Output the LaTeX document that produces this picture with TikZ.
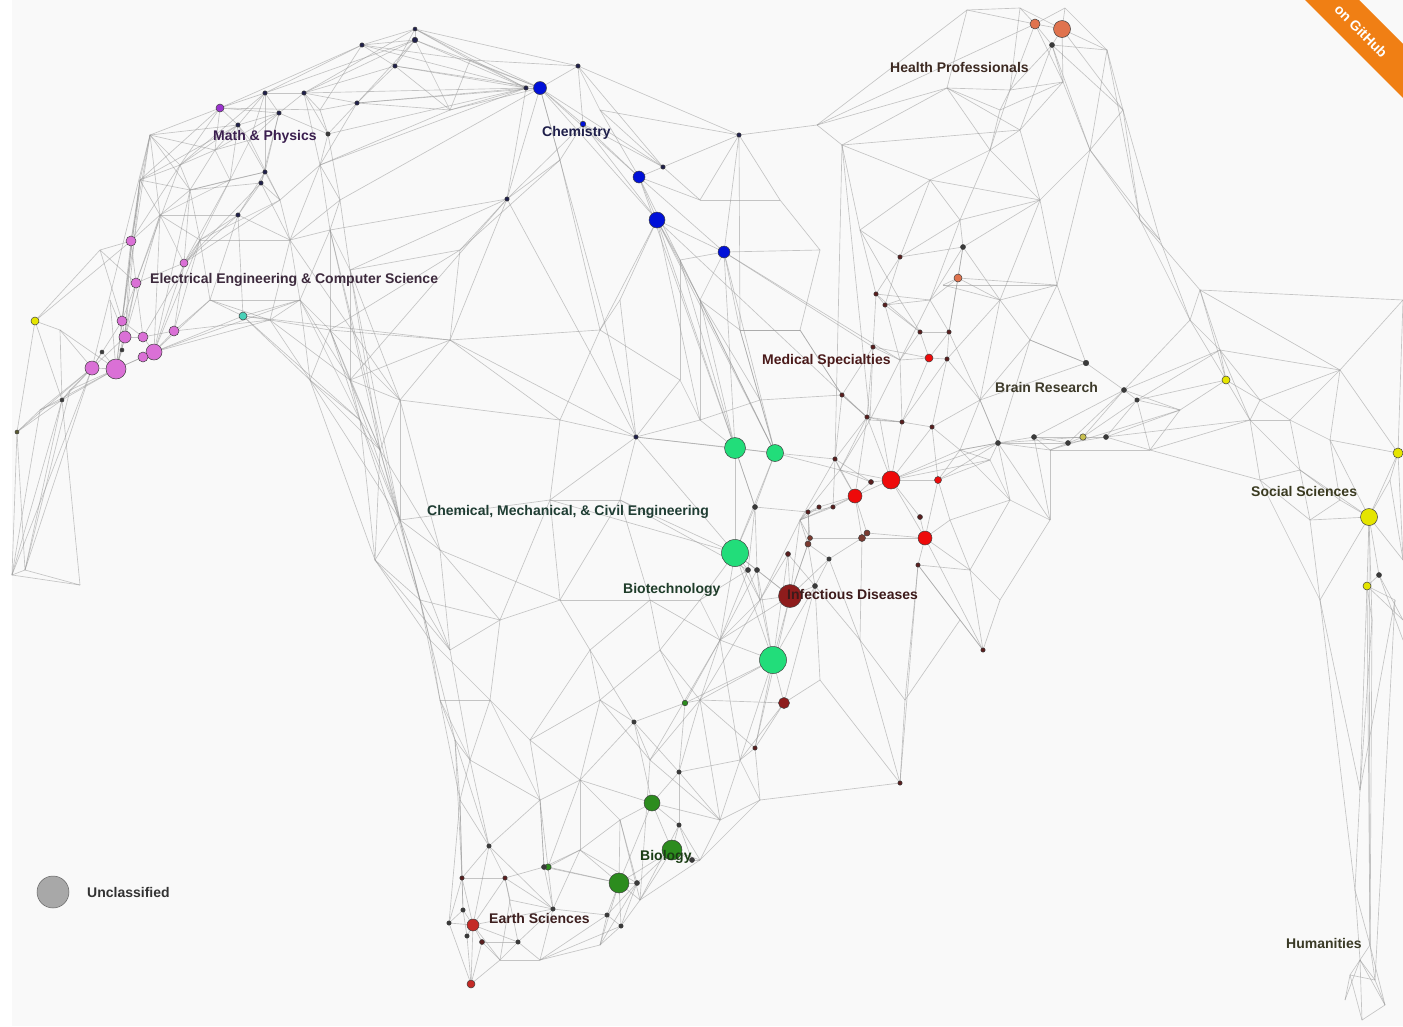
\documentclass[tikz,border=0pt]{standalone}
\usepackage{fontspec}
\setmainfont{Liberation Sans}
\definecolor{ee}{HTML}{DA70D6}
\definecolor{mp}{HTML}{9A32CD}
\definecolor{tq}{HTML}{48D1B8}
\definecolor{yl}{HTML}{E5E500}
\definecolor{bl}{HTML}{0010D8}
\definecolor{co}{HTML}{E0734E}
\definecolor{rd}{HTML}{EE0A0A}
\definecolor{mr}{HTML}{8E1C1C}
\definecolor{sg}{HTML}{22DD7A}
\definecolor{fg}{HTML}{2C8C1E}
\definecolor{er}{HTML}{C42A26}
\definecolor{dk}{HTML}{3A3A3A}
\definecolor{nv}{HTML}{20204A}
\definecolor{dr}{HTML}{5A1E1E}
\definecolor{br}{HTML}{7A3A30}
\definecolor{ol}{HTML}{5A5A30}
\definecolor{gy}{HTML}{A8A8A8}
\definecolor{by}{HTML}{C8C050}
\definecolor{bgc}{HTML}{F9F9F9}
\definecolor{gh}{HTML}{F07F14}
\definecolor{lmp}{HTML}{3B1F4F}
\definecolor{lee}{HTML}{3D2A3D}
\definecolor{lch}{HTML}{1F1F4A}
\definecolor{lhp}{HTML}{3D2A22}
\definecolor{lms}{HTML}{4A1A1A}
\definecolor{lbr}{HTML}{3D3A2A}
\definecolor{lss}{HTML}{3A3A20}
\definecolor{lcm}{HTML}{1F3D33}
\definecolor{lbt}{HTML}{1F3D2A}
\definecolor{lid}{HTML}{3D1A1A}
\definecolor{lbi}{HTML}{1A3D14}
\definecolor{les}{HTML}{3D1F1F}
\definecolor{lhu}{HTML}{3A3A26}
\definecolor{lun}{HTML}{333333}
\newcommand\myfan[2]{\foreach \tgt in {#2}{\draw[edge] (#1) -- (\tgt);}}
\tikzset{
 edge/.style={draw=black!40, line width=0.65pt, opacity=0.55},
 dot/.style={circle, inner sep=0pt, draw=black!75, line width=0.5pt},
 lab/.style={anchor=west, inner sep=0pt, font=\fontsize{14}{16}\selectfont\bfseries},
}
\begin{document}
\begin{tikzpicture}[x=1pt,y=-1pt]
\useasboundingbox (0,0) rectangle (1403,1026);
\fill[bgc] (0,0) rectangle (1403,1026);
\fill[white] (0,0) rectangle (12,1026);
\foreach \nn/\xx/\yy in {
a1/131/241, a2/184/263, a3/136/283, a4/122/321, a5/125/337, a6/143/337, a7/174/331, a8/154/352, a9/143/357, a10/92/368, a11/116/369, a12/102/352, a13/122/350, a14/62/400, a15/17/432, a16/35/321, a17/243/316,
x1/150/135, x2/140/180, x3/190/190, x4/160/215, x5/200/240, x6/215/150, x7/320/165, x8/330/230, x9/300/300, x10/270/320, x11/330/330, x12/210/300, x13/70/390, x14/40/410, x15/12/575, x16/25/570, x17/80/585, x18/110/300, x19/250/140, x20/340/200, x21/60/330, x22/180/165, x23/230/180, x24/290/240, x25/100/250, x26/320/110, x27/350/270, x28/280/200,
m1/220/108, m2/265/93, m3/304/93, m4/279/113, m5/238/125, m6/328/134, m7/265/172, m8/261/183, m9/238/215, m10/357/103, m11/362/45, m12/415/29, m13/415/40, m14/395/66,
c1/540/88, c2/526/88, c3/578/66, c4/583/124, c5/639/177, c6/657/220, c7/724/252, c8/663/167, c9/739/135, c10/507/199, c11/636/437,
y1/470/60, y2/600/110, y3/680/260, y4/700/300, y5/817/125, y6/842/145, y7/700/200, y8/560/160, y9/460/250, y10/620/300, y11/740/330, y12/450/110,
hp1/1035/24, hp2/1062/29, hp3/1052/45,
z1/1020/8, z2/1065/8, z3/1107/50, z4/1063/82, z5/1123/110, z6/967/10, z7/947/88, z8/1000/110, z9/1020/130, z10/1057/285, z11/943/285, z12/1090/150, z13/1140/220,
ms1/958/278, ms2/963/247, ms3/900/257, ms4/876/294, ms5/885/305, ms6/920/332, ms7/949/332, ms8/929/358, ms9/947/359, ms10/873/347, ms11/842/395, ms12/867/417, ms13/902/422, ms14/932/427, ms15/835/459, ms16/891/480, ms17/855/496, ms18/871/482, ms19/938/480, ms20/925/538, ms21/918/565, ms22/920/517, ms23/862/538, ms24/867/533, ms25/808/512, ms26/819/507, ms27/833/507, ms28/755/507, ms29/810/538, ms30/808/544, ms31/788/554, ms32/829/559, ms33/748/570, ms34/757/570, ms35/815/586, ms36/983/650, ms37/900/783, ms38/784/703, ms39/755/748, id1/790/596,
w1/970/570, w2/1000/600, w3/1010/500, w4/1050/520, w5/960/450, w6/980/400, w7/1000/300, w8/1040/200, w9/1030/340, w10/900/300, w11/860/230, w12/880/420, w13/950/520, w14/990/460, w15/1050/450, w16/930/180, w17/905/700, w18/960/620, w19/860/640, w20/820/680,
g1/735/448, g2/775/453, g3/735/553, g4/773/660,
r1/1086/363, r2/1124/390, r3/1137/400, r4/998/443, r5/1034/437, r6/1068/443, r7/1083/437, r8/1106/437,
q1/1190/320, q2/1250/420, q3/1300/470, q4/1403/300, q5/1340/370, q6/1160/240, q7/1200/290, q8/1260/480, q9/1310/520, q10/1340/500, q11/1403/560, q12/1403/640, q13/1180/410, q14/1150/450, q15/1260/400, q16/1220/350, q17/1290/420, q18/1330/440, q19/1390/480, q20/1403/620,
ss1/1369/517, ss2/1398/453, ss3/1367/586, ss4/1379/575, ss5/1226/380,
u1/1360/960, u2/1370/945, u3/1350/975, u4/1385/1005, u5/1362/1020, u6/1375/980, u7/1355/890, u8/1345/1000, u9/1320/600, u10/1372/620, u11/1395/600, u12/1360/790,
b1/652/803, b2/672/850, b3/619/883, b4/548/867, b5/637/883, b6/692/860, b7/679/772, b8/685/703, b9/634/722, b10/679/825, b11/544/867,
e1/473/925, e2/471/984, e3/489/846, e4/462/878, e5/505/878, e6/463/910, e7/449/923, e8/467/936, e9/482/942, e10/518/942, e11/553/909, e12/607/915, e13/621/926,
d1/540/960, d2/600/945, d3/640/900, d4/700/860, d5/720/820, d6/500/960, d7/540/800, d8/580/780, d9/620/820, d10/600/700, d11/660/650, d12/700/600, d13/470/760, d14/450/650, d15/500/620, d16/560/600, d17/440/550, d18/490/700, d19/530/740, d20/590/650, d21/650/600, d22/510/900, d23/580/850, d24/740/760, d25/760/800,
l1/380/450, l2/400/520, l3/420/600, l4/440/700, l5/460/800, l6/350/380, l7/310/380, l8/360/420, l9/430/640, l10/455/740, l11/400/400, l12/375/560,
k1/720/640, k2/760/600, k3/800/520, k4/840/470, k5/870/420, k6/900/360, k7/930/300, k8/960/220, k9/990/150, k10/1010/90, k11/700/700, k12/650/760,
n1/600/330, n2/450/340, n3/550/500, n4/620/500, n5/700/420, n6/800/330, n7/760/400, n8/820/250, n9/780/200, n10/680/380, n11/560/420,
lg/53/892}
{\coordinate (\nn) at (\xx,\yy);}
% ---- left cluster
\myfan{a11}{a10,a12,a13,a9,a8,a5,a4,x13,x14,a14,x18,x21,x2,x4,a3}
\myfan{a10}{a14,x13,x14,a15,x16,x15,a12,a5,x21,a4,x1}
\myfan{a8}{a9,a7,a6,a2,x5,x12,x10,a17,x9,x3,x4}
\myfan{a5}{a6,a4,a3,x18,a1,x2}
\myfan{a6}{a7,a4,a3,x5}
\myfan{a4}{a3,a1,x25,x2,x1}
\myfan{a3}{a1,a2,x4,x25,x22}
\myfan{a1}{x2,x1,x25,x22,x4}
\myfan{a2}{x3,x4,x5,x23,x28,m9,m8}
\myfan{a7}{x12,x5,a2,x10}
\myfan{a14}{x13,x14,a15,x15,x16,x17,a16,x21}
\myfan{a15}{x14,x15,x16,a16}
\myfan{x15}{x16,x17,x14}
\myfan{x16}{x17,x13}
\myfan{a16}{x21,x25,a1}
\myfan{x1}{x2,x22,m1,m5,x6,x3,x4}
\myfan{x2}{x22,x3,x4,m1,m5}
\myfan{x22}{x3,x6,m5,m1,m2}
\myfan{x3}{x4,x5,x23,x6,m7,m8}
\myfan{x4}{x5,x23,m9}
\myfan{x5}{x23,x12,m9,x28,x24}
\myfan{m1}{m2,m5,x6,m4,m11,x26}
\myfan{m2}{m3,m4,m5,m7,m11,m13,x19}
\myfan{m3}{m4,m10,m14,m13,m12,m6,x26,x7}
\myfan{m4}{m5,m6,m7,m8,x19}
\myfan{m5}{m7,x6,x19,x23}
\myfan{m6}{x7,x20,m10,x26}
\myfan{m7}{m8,m9,x23,x28}
\myfan{m8}{m9,x28,x24}
\myfan{m9}{x12,x24,a17}
\myfan{m10}{m14,m13,x7,x26}
\myfan{m11}{m13,m14,m12,x26}
\myfan{m12}{m13,m14}
\myfan{m13}{m14,y12}
\myfan{x7}{x20,x8,x24,x28}
\myfan{x20}{x8,x27,x24}
\myfan{x8}{x24,x27,x9,x11,l1,l2,c10}
\myfan{x24}{x9,x10,x28,l11}
\myfan{x9}{x10,x11,x12,a17,l7,l6,l8}
\myfan{x10}{x12,a17,x11,l7,l6}
\myfan{x6}{x19,x23,m4}
\myfan{x19}{x23,x28}
\myfan{x11}{l6,l7,l8,l11,l1,n2}
\myfan{x27}{l6,l11,l1,l2,c10,y9}
\myfan{a17}{l7,l8,n2,x12}
% ---- top arc and chemistry
\myfan{c2}{c1,m13,m12,m11,m14,m3,m10,y12,y1,m6,x7}
\myfan{c1}{c3,c4,c8,c5,c6,y1,m12,m13,m14,m10,y8,c10,y12,x20,c11}
\myfan{c3}{c9,m12,y1,c4,c8,y2}
\myfan{y1}{m12,m11,y12}
\myfan{y12}{m14,m10,x7}
\myfan{c10}{c2,c4,y9,n2,y8,l6,c11}
\myfan{y9}{x11,n2,y8}
\myfan{c4}{c5,c6,c8,y8}
\myfan{c5}{c6,c7,c8,y7,y3,g1,y2}
\myfan{c6}{c7,y3,y4,g1,g2,y10,n5,k5}
\myfan{c7}{y3,y4,g1,g2,y11,c9,k6,ms10}
\myfan{c8}{c9,y2,y7}
\myfan{c9}{y5,y2,y7,y11,n9}
\myfan{y5}{y6,z7,hp1,z6}
\myfan{y6}{w11,w16,z9,ms15,k5}
\myfan{y3}{y4,g1,g2,n10}
\myfan{y4}{g1,g2,n7,n5,y11}
\myfan{y11}{g2,n7,n6}
\myfan{c11}{g1,g3,n5,n10,n11,n4,n3,y10,g2,n2}
\myfan{n2}{n1,n11,l6,l11}
\myfan{n1}{y10,n10,c6,y8,n11}
% ---- left arm
\myfan{l7}{l8,l1,l12,l2}
\myfan{l6}{l8,l11,l1,l2}
\myfan{l8}{l1,l12,l3,l2}
\myfan{l11}{l1,l2,d17,n11}
\myfan{l1}{l2,l12,l3,d17}
\myfan{l2}{l12,l3,l9,d17,d14}
\myfan{l12}{l3,l9,d14}
\myfan{l3}{l9,l4,d14,d15}
\myfan{l9}{l4,l10,d18}
\myfan{l4}{l10,l5,d13,d18}
\myfan{l10}{l5,d13,e3,e4}
\myfan{l5}{e3,e4,e6,e7,d13}
% ---- earth sciences
\myfan{e1}{e2,e3,e4,e5,e6,e7,e8,e9,e10,d6,e11}
\myfan{e2}{e8,e9,e7,d6}
\myfan{e3}{e4,e5,d13,e11,d7}
\myfan{e4}{e6,e7,e5}
\myfan{e5}{e11,e10,d22,b11}
\myfan{e6}{e7,e8}
\myfan{e9}{e10,d6}
\myfan{e10}{d1,d6,e11}
\myfan{d6}{d1,d22}
\myfan{d1}{d2,e12,e13,e11}
\myfan{d2}{e12,e13,b3,b5}
\myfan{e11}{b11,b4,e12,d22,d23}
\myfan{e12}{e13,b3,b5}
\myfan{e13}{b3,b5,d3}
% ---- biology
\myfan{b3}{b5,b2,b1,b4,b11,d3,d23,d9}
\myfan{b2}{b6,b10,b1,d3,d4,b5}
\myfan{b1}{b7,b10,d9,b9,d5,d8}
\myfan{b4}{b11,d23,d8,d7}
\myfan{b11}{d7,d23}
\myfan{b6}{d4,b10}
\myfan{b7}{b10,d5,b8,b9,k11,d24}
\myfan{b9}{b8,d10,d20,d8}
\myfan{b8}{k11,k1,d11,g4}
% ---- right arm
\myfan{d3}{d4,d9,b10,k12}
\myfan{d4}{d5,d25,b10}
\myfan{d5}{d24,d25,k11,k12}
\myfan{d24}{d25,ms39,g4,k1,ms38}
\myfan{d25}{ms39,ms37}
\myfan{k12}{k11,b9,d10,k1}
\myfan{k11}{k1,k2,g4,ms38,ms39}
\myfan{k1}{k2,g4,ms33,ms34,g3,id1}
\myfan{k2}{g4,id1,k3,ms33,ms34,ms31,g3}
\myfan{ms39}{ms38,g4,id1}
\myfan{g4}{ms38,id1,ms35,ms31,g3,ms34}
\myfan{id1}{ms35,ms31,ms30,ms29,ms34,k3,g3,ms32}
\myfan{k3}{ms25,ms26,ms27,ms29,ms30,k4,ms17,ms15}
\myfan{ms28}{g3,g1,ms25,ms33,ms34,g2}
\myfan{g3}{g1,g2,ms33,ms34,n3,n4}
\myfan{k4}{ms15,ms17,ms18,ms16,k5,ms12,g2}
\myfan{k5}{ms12,ms11,ms13,k6,ms10}
\myfan{k6}{ms10,ms8,ms6,k7,ms5,ms13}
\myfan{k7}{ms5,ms4,ms1,ms2,k8,ms7}
\myfan{k8}{ms2,ms3,k9,w16,w8}
\myfan{k9}{k10,w16,w8,z8,z9,z7}
\myfan{k10}{hp1,hp3,z1,z7,z8,z4}
\myfan{g1}{g2,n5,ms28}
\myfan{g2}{ms15,n7}
\myfan{n5}{n10,n7}
\myfan{n6}{n8,ms11,y11}
\myfan{n8}{n9,c7}
\myfan{n9}{y7}
% ---- medical
\myfan{ms16}{ms17,ms18,ms19,ms20,ms22,ms13,ms14,ms12,w5,w14,w12}
\myfan{ms17}{ms18,ms27,ms26,ms15,ms23,ms24,ms12}
\myfan{ms20}{ms22,ms21,ms23,ms24,w13,w1,ms19}
\myfan{ms21}{w1,w18,ms36,ms37,w17}
\myfan{ms19}{w5,w13,w14,ms14}
\myfan{ms13}{ms14,ms12,ms8,ms9,w12}
\myfan{ms14}{ms9,w5,w6}
\myfan{ms8}{ms6,ms7,ms9,ms10}
\myfan{ms9}{ms7,w6,w7}
\myfan{ms6}{ms7,ms5,ms4,w10}
\myfan{ms5}{ms4,ms3,w10}
\myfan{ms4}{ms3,w11,ms10}
\myfan{ms3}{w11,w16,ms2}
\myfan{ms1}{ms2,ms7,w7,z10,z11}
\myfan{ms2}{w8,w7,ms7}
\myfan{ms10}{ms11,ms12}
\myfan{ms11}{ms12,ms15,n6,n7}
\myfan{ms15}{ms12,ms27,ms18}
\myfan{ms25}{ms26,ms27,ms29,ms30}
\myfan{ms23}{ms24,ms29,ms32,w19}
\myfan{ms32}{ms35,ms30,w19}
\myfan{ms35}{ms30,ms31,w19,w20}
\myfan{ms36}{w18,w2,w1,ms20}
\myfan{ms37}{w17,w19,w20}
\myfan{ms38}{w20,ms35}
\myfan{w17}{w18,w19}
\myfan{w1}{w2,w13,w3}
\myfan{w3}{w4,w14,w13,r4,w5}
\myfan{w4}{w15,r4,r5,w2}
\myfan{w5}{w6,w14,r4}
\myfan{w6}{w7,w9,r4,ms7}
\myfan{w7}{w9,w8,z10,z11}
\myfan{w8}{w16,z9,z10,z12}
\myfan{w9}{z10,r1,r4}
\myfan{w11}{w16,w10}
\myfan{w12}{ms12}
% ---- health professionals
\myfan{hp2}{hp1,hp3,z1,z2,z3,z4,z5}
\myfan{hp1}{hp3,z1,z2,z6,z4}
\myfan{hp3}{z3,z4,z5,z12,z9}
\myfan{z6}{z7,z1}
\myfan{z7}{z8,z9,y6}
\myfan{z3}{z5,z12,z13,z2}
\myfan{z5}{z12,z13,q6}
\myfan{z12}{z13,q6,z10}
\myfan{z13}{q6,q7,q1}
\myfan{z4}{z12,z9,z8}
\myfan{z10}{z11,r1}
% ---- brain research and social sciences
\myfan{r4}{r5,r6,r7,w14,w15,ms16,ms19,w5,w6}
\myfan{r5}{r6,r7,w15,r2}
\myfan{r6}{r7,r8,r2,w15}
\myfan{r7}{r8,r2,r3}
\myfan{r8}{r3,q14,q13,q2}
\myfan{r1}{r2,w9,w6}
\myfan{r2}{r3,q16,q1,q13}
\myfan{r3}{q13,ss5,q16,q14}
\myfan{ss5}{q1,q16,q15,q2,q13,q7}
\myfan{q1}{q7,q16,q6}
\myfan{q7}{q16,q4,q5}
\myfan{q16}{q15,q2,q5}
\myfan{q15}{q2,q17,q5}
\myfan{q2}{q17,q8,q3,q14}
\myfan{q17}{q18,q3,q5}
\myfan{q5}{q4,q18,ss2}
\myfan{q18}{ss2,ss1,q10}
\myfan{q3}{q8,q9,q10,ss1}
\myfan{q8}{q9,q14,u9}
\myfan{q9}{ss1,q10,u9}
\myfan{ss1}{q10,ss2,q19,ss3,ss4,q11,u10,u9,u2}
\myfan{ss2}{q19,q11,q4}
\myfan{ss3}{ss4,u10,u11,q20}
\myfan{ss4}{q20,q12}
\myfan{q19}{q11}
\myfan{w15}{q14,q13}
\myfan{q14}{q13}
% ---- humanities
\myfan{u1}{u2,u3,u4,u5,u6,u7,u8}
\myfan{u2}{u6,u4,u7,u10,ss3}
\myfan{u3}{u8,u5,u6}
\myfan{u4}{u5,u6}
\myfan{u7}{u12,u9}
\myfan{u12}{u10,ss3,u9,u11}
\myfan{u6}{u11}
% ---- centre bottom
\myfan{n3}{n4,d16,d15,l2,n11}
\myfan{n4}{d16,d21,ms33}
\myfan{d16}{d20,d15,d21,d17}
\myfan{d20}{d10,d21,d19}
\myfan{d21}{d11,d12,k1}
\myfan{d12}{d11,k1,g3,ms33}
\myfan{d11}{d10,k11}
\myfan{d10}{d19,d8}
\myfan{d19}{d8,d7,d18}
\myfan{d18}{d13,d15,d7}
\myfan{d15}{d14,d17}
\myfan{d14}{d17,d13}
\myfan{d13}{d7}
\myfan{d7}{d8,b11}
\myfan{d8}{d9,d23}
\myfan{d9}{d23,b5}
\myfan{d23}{b5}
% ---- visible vertices
\foreach \nn/\rr/\cc in {
a1/5/ee, a2/4/ee, a3/5/ee, a4/5/ee, a5/6/ee, a6/5/ee, a7/5/ee, a8/8/ee, a9/5/ee, a10/7/ee, a11/10/ee, a12/2/dk, a13/2/dk, a14/2/dk, a15/2/ol, a16/4/yl, a17/4/tq,
m1/4/mp, m2/2.2/nv, m3/2.2/nv, m4/2.2/nv, m5/2.2/nv, m6/2.2/dk, m7/2.2/nv, m8/2.2/nv, m9/2.2/nv, m10/2.2/nv, m11/2.2/nv, m12/2/nv, m13/2.8/nv, m14/2.2/nv,
c1/6.5/bl, c2/2.2/nv, c3/2.2/nv, c4/2.8/bl, c5/6/bl, c6/8/bl, c7/6/bl, c8/2.2/nv, c9/2.2/nv, c10/2.2/nv, c11/2.2/nv,
hp1/5/co, hp2/8.5/co, hp3/2.5/dk,
ms1/4/co, ms2/2.5/dk, ms3/2.2/dr, ms4/2.2/dr, ms5/2.2/dr, ms6/2.2/dr, ms7/2.2/dr, ms8/4/rd, ms9/2.2/dr, ms10/2.2/dr, ms11/2.2/dr, ms12/2.2/dr, ms13/2.2/dr, ms14/2.2/dr, ms15/2.2/dr, ms16/9/rd, ms17/7/rd, ms18/2.5/dr, ms19/3.5/rd, ms20/7/rd, ms21/2.2/dr, ms22/2.5/dr, ms23/3.5/br, ms24/3/br, ms25/2.2/dr, ms26/2.2/dr, ms27/2.2/dr, ms28/2.5/dk, ms29/2.5/br, ms30/3/br, ms31/2.5/dr, ms32/2.2/dk, ms33/2.5/dk, ms34/2.5/dk, ms35/2.5/dk, ms36/2.2/dr, ms37/2.2/dr, ms38/5.5/mr, ms39/2.2/dr, id1/11.5/mr,
g1/10.5/sg, g2/8.5/sg, g3/13.5/sg, g4/13.5/sg,
r1/2.8/dk, r2/2.5/dk, r3/2.2/dk, r4/2.5/dk, r5/2.5/dk, r6/2.5/dk, r7/3.2/by, r8/2.5/dk,
ss1/8.5/yl, ss2/5/yl, ss3/4/yl, ss4/2.5/dk, ss5/4/yl,
b1/8/fg, b2/10/fg, b3/10/fg, b4/3.2/fg, b5/2.5/dk, b6/2.5/dk, b7/2.2/dk, b8/2.8/fg, b9/2.2/dk, b10/2.2/dk, b11/2.5/dk,
e1/6/er, e2/4/er, e3/2.2/dk, e4/2.2/dr, e5/2.2/dr, e6/2.2/dk, e7/2.2/dk, e8/2.2/dk, e9/2.5/dr, e10/2.2/dk, e11/2.2/dk, e12/2.2/dk, e13/2.2/dk}
{\node[dot, minimum size=\rr*2pt, fill=\cc] (v\nn) at (\nn) {};}
\node[dot, minimum size=32pt, fill=gy, draw=black!60] (vlg) at (lg) {};
% ---- labels
\node[lab, text=lmp] (tmath) at (213,137) {Math \& Physics};
\node[lab, text=lee] (teecs) at (150,280) {Electrical Engineering \& Computer Science};
\node[lab, text=lch] (tchem) at (542,133) {Chemistry};
\node[lab, text=lhp] (thp) at (890,67) {Health Professionals};
\node[lab, text=lms] (tms) at (762,361) {Medical Specialties};
\node[lab, text=lbr] (tbr) at (995,387) {Brain Research};
\node[lab, text=lss] (tss) at (1251,491) {Social Sciences};
\node[lab, text=lcm] (tcm) at (427,512) {Chemical, Mechanical, \& Civil Engineering};
\node[lab, text=lbt] (tbt) at (623,590) {Biotechnology};
\node[lab, text=lid] (tid) at (787,594) {Infectious Diseases};
\node[lab, text=lbi] (tbi) at (640,857) {Biology};
\node[lab, text=les] (tes) at (489,918) {Earth Sciences};
\node[lab, text=lhu] (thu) at (1286,943) {Humanities};
\node[lab, text=lun] (tun) at (87,892) {Unclassified};
% ---- ribbon
\begin{scope}
\clip (0,0) rectangle (1403,1026);
\fill[gh] (1300,-5) -- (1354,-5) -- (1410,51) -- (1410,105) -- cycle;
\node[rotate=-45, text=white, inner sep=0pt, font=\fontsize{14}{16}\selectfont\bfseries] (ghtext) at (1361,31) {on GitHub};
\end{scope}
\end{tikzpicture}
\end{document}
